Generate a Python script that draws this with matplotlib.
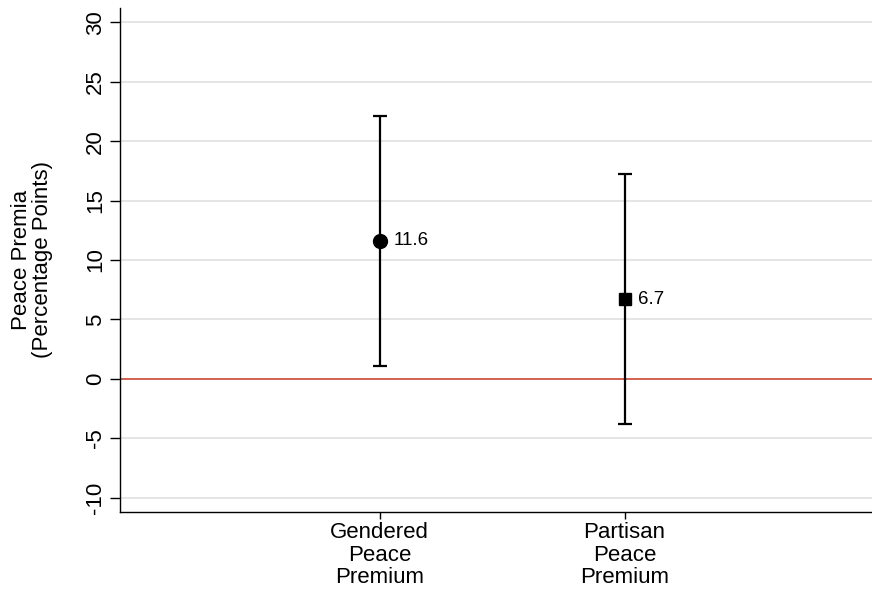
import matplotlib
matplotlib.use("Agg")

import matplotlib.pyplot as plt

# data
categories = ["Gendered\nPeace\nPremium", "Partisan\nPeace\nPremium"]
estimates = [11.6, 6.7]
ci_low = [1.1, -3.8]
ci_high = [22.1, 17.2]
markers = ["o", "s"]
marker_sizes = [10, 9]
y_ticks = [-10, -5, 0, 5, 10, 15, 20, 25, 30]

plt.rcParams["font.family"] = ["Liberation Sans", "DejaVu Sans"]

fig = plt.figure(figsize=(8.72, 5.92), dpi=100)
ax = fig.add_axes([120 / 872, 80 / 592, 752 / 872, 504 / 592])

positions = [1, 2]

# light gridlines, red zero line
for t in y_ticks:
    if t == 0:
        continue
    ax.axhline(t, color="#e3e3e3", lw=1.3, zorder=0)
ax.axhline(0, color="#cf5540", lw=1.3, zorder=1)

for x, est, lo, hi, m, ms in zip(positions, estimates, ci_low, ci_high,
                                  markers, marker_sizes):
    ax.errorbar(x, est, yerr=[[est - lo], [hi - est]], fmt=m, color="black",
                ms=ms, ecolor="black", elinewidth=1.6, capsize=5,
                capthick=1.6, zorder=3)
    ax.annotate("{:.1f}".format(est), xy=(x, est), xytext=(10, 0),
                textcoords="offset points", va="center", ha="left",
                fontsize=13.5)

ax.set_xlim(-0.06, 3.01)
ax.set_ylim(-11.2, 31.2)
ax.set_xticks(positions)
ax.set_xticklabels(categories, fontsize=16, linespacing=1.08)
ax.set_yticks(y_ticks)
ax.set_yticklabels([str(t) for t in y_ticks], fontsize=16, rotation=90,
                   va="center")

ax.tick_params(axis="y", length=7, width=1, pad=3)
ax.tick_params(axis="x", length=5, width=1, pad=2.5)

ax.set_ylabel("Peace Premia\n(Percentage Points)", fontsize=16,
              linespacing=1.0)
ax.yaxis.set_label_coords(-0.089, 0.5)

for side in ["top", "right"]:
    ax.spines[side].set_visible(False)
for side in ["left", "bottom"]:
    ax.spines[side].set_linewidth(1.0)

fig.savefig("out.png", dpi=100)
